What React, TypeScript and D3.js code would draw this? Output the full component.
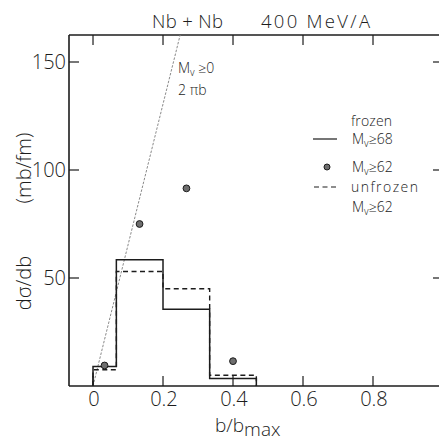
import React from "react";
import * as d3 from "d3";

// ---- data ----
const binEdges = [0, 0.0667, 0.2, 0.3333, 0.4667];
const frozen68 = [9, 58.5, 35.5, 3.5];
const unfrozen62 = [7.5, 53, 45, 5];
const frozen62B = [0.033, 0.133, 0.267, 0.4];
const frozen62Y = [9.5, 75, 91.5, 11.5];
const geomB = [0, 0.249];
const geomY = [0, 162.5];
const xTicks = [0, 0.2, 0.4, 0.6, 0.8];
const xTickLabels = ["0", "0.2", "0.4", "0.6", "0.8"];
const yTicks = [50, 100, 150];
const yTickLabels = ["50", "100", "150"];

const W = 439;
const H = 442;
const FONT = "'Open Sans', 'DejaVu Sans', sans-serif";
const INK = "#1c1c1c";

export default function App() {
  const x = d3.scaleLinear().domain([-0.0686, 1.0]).range([69, 443]);
  const y = d3.scaleLinear().domain([0, 162.5]).range([386, 35]);
  const [x0, x1] = x.range();
  const [yb, yt] = y.range();

  const stepLine = d3
    .line<[number, number]>()
    .x((d) => x(d[0]))
    .y((d) => y(d[1]))
    .curve(d3.curveStepAfter);

  const histPts = (vals: number[]): [number, number][] => [
    [binEdges[0], 0],
    ...vals.map((v, i) => [binEdges[i], v] as [number, number]),
    [binEdges[binEdges.length - 1], 0],
  ];

  const straight = d3
    .line<[number, number]>()
    .x((d) => x(d[0]))
    .y((d) => y(d[1]));
  const geomPts: [number, number][] = geomB.map((b, i) => [b, geomY[i]]);

  const tick = 10;

  return (
    <svg
      width={W}
      height={H}
      style={{ position: "absolute", left: 0, top: 0, background: "#fff" }}
      fontFamily={FONT}
      fontWeight={300}
    >
      <defs>
        <clipPath id="plot">
          <rect x={x0} y={yt} width={x1 - x0} height={yb - yt} />
        </clipPath>
      </defs>

      {/* title */}
      <text x={152} y={28} fontSize={18.5} fill={INK} textLength={71} lengthAdjust="spacing">
        Nb + Nb
      </text>
      <text x={261} y={28} fontSize={18.5} fill={INK} textLength={109} lengthAdjust="spacing">
        400 MeV/A
      </text>

      {/* frame */}
      <g stroke={INK} strokeWidth={1.6} fill="none">
        <line x1={x0} y1={yt} x2={x1} y2={yt} />
        <line x1={x0} y1={yb} x2={x1} y2={yb} />
        <line x1={x0} y1={yt} x2={x0} y2={yb} />
        <line x1={x1} y1={yt} x2={x1} y2={yb} />
      </g>

      {/* ticks (inward on all four sides) */}
      <g stroke={INK} strokeWidth={1.2}>
        {xTicks.map((t) => (
          <g key={"xt" + t}>
            <line x1={x(t)} x2={x(t)} y1={yb} y2={yb - tick} />
            <line x1={x(t)} x2={x(t)} y1={yt} y2={yt + tick} />
          </g>
        ))}
        {yTicks.map((t) => (
          <g key={"yt" + t}>
            <line x1={x0} x2={x0 + tick} y1={y(t)} y2={y(t)} />
            <line x1={x1} x2={x1 - tick} y1={y(t)} y2={y(t)} />
          </g>
        ))}
      </g>

      {/* tick labels */}
      {xTicks.map((t, i) => (
        <text key={"xl" + t} x={x(t) + 1} y={406} fontSize={20} fill={INK} textAnchor="middle">
          {xTickLabels[i]}
        </text>
      ))}
      {yTicks.map((t, i) => (
        <text
          key={"yl" + t}
          x={66}
          y={y(t)}
          dy="0.36em"
          fontSize={20}
          fill={INK}
          textAnchor="end"
        >
          {yTickLabels[i]}
        </text>
      ))}

      {/* axis titles */}
      <text x={215} y={432} fontSize={19} fill={INK}>
        b/b
        <tspan dy={3.5}>max</tspan>
      </text>
      <text
        transform="translate(31,283) rotate(-90)"
        fontSize={20}
        fill={INK}
        textAnchor="middle"
      >
        dσ/db
      </text>
      <text
        transform="translate(31,168) rotate(-90)"
        fontSize={20}
        fill={INK}
        textAnchor="middle"
      >
        (mb/fm)
      </text>

      {/* geometric 2πb line */}
      <path
        d={straight(geomPts) || ""}
        clipPath="url(#plot)"
        fill="none"
        stroke="#8a8a8a"
        strokeWidth={1}
        strokeDasharray="2.5,1.5"
      />
      <text x={178} y={73} fontSize={14} fill={INK}>
        M<tspan dy={2.5} fontSize={10}>v</tspan>
        <tspan dy={-2.5}> ≥0</tspan>
      </text>
      <text x={178} y={95} fontSize={14} fill={INK}>
        2 πb
      </text>

      {/* histograms */}
      <path
        d={stepLine(histPts(frozen68)) || ""}
        fill="none"
        stroke={INK}
        strokeWidth={1.5}
      />
      <path
        d={stepLine(histPts(unfrozen62)) || ""}
        fill="none"
        stroke={INK}
        strokeWidth={1.4}
        strokeDasharray="5,3.5"
      />

      {/* frozen Mv>=62 points */}
      {frozen62B.map((b, i) => (
        <circle
          key={"p" + i}
          cx={x(b)}
          cy={y(frozen62Y[i])}
          r={3.4}
          fill="#6e6e6e"
          stroke={INK}
          strokeWidth={1}
        />
      ))}

      {/* legend */}
      <g fill={INK} fontSize={14}>
        <text x={351} y={126} textLength={41} lengthAdjust="spacing">
          frozen
        </text>
        <line x1={313} x2={337} y1={139} y2={139} stroke={INK} strokeWidth={1.2} />
        <text x={352} y={144}>
          M<tspan dy={2.5} fontSize={10}>v</tspan>
          <tspan dy={-2.5}>≥68</tspan>
        </text>
        <circle cx={327} cy={167} r={3} fill="#6e6e6e" stroke={INK} strokeWidth={1} />
        <text x={352} y={172}>
          M<tspan dy={2.5} fontSize={10}>v</tspan>
          <tspan dy={-2.5}>≥62</tspan>
        </text>
        <line
          x1={314}
          x2={337}
          y1={187}
          y2={187}
          stroke={INK}
          strokeWidth={1.2}
          strokeDasharray="5,3.5"
        />
        <text x={351} y={192} textLength={67} lengthAdjust="spacing">
          unfrozen
        </text>
        <text x={352} y={212}>
          M<tspan dy={2.5} fontSize={10}>v</tspan>
          <tspan dy={-2.5}>≥62</tspan>
        </text>
      </g>
    </svg>
  );
}
